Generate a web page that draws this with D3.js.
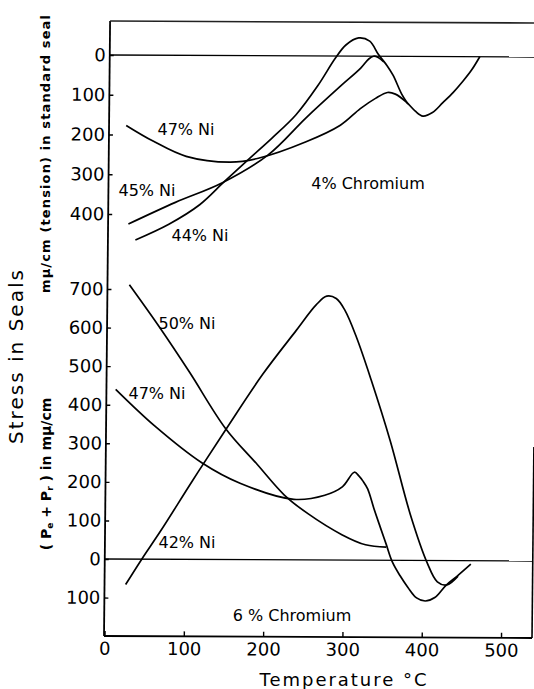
<!DOCTYPE html>
<html><head><meta charset="utf-8">
<script src="https://cdn.jsdelivr.net/npm/d3@7"></script>
<style>
body{margin:0;background:#fff}
svg{display:block;background:#fff}
text{font-family:"DejaVu Sans",sans-serif;fill:#000}
</style>
</head><body>
<svg id="c" width="534" height="689"></svg>
<script>
// ---- data (temperature °C, stress mμ/cm) ----
const tempTicks = [0, 100, 200, 300, 400, 500];
const topTicks = [0, 100, 200, 300, 400];
const botTicks = [700, 600, 500, 400, 300, 200, 100, 0, -100];

// 4% Chromium panel (positive = tension, plotted downward)
const top47 = [[21,177],[55,216],[97,254],[153,268],[188,258],[248,216],[291,174],[316,132],[335,106],[350,91],[360,95],[374,115],[385,137],[395,150],[407,141],[420,116],[433,90],[445,62],[456,33],[466,0]];
const top45 = [[25,425],[84,370],[143,320],[200,250],[248,155],[291,75],[316,30],[326,7],[332,0],[338,3],[345,14]];
const top44 = [[34,465],[76,425],[115,375],[145,318],[175,262],[205,207],[235,148],[262,75],[284,5],[297,-28],[313,-46],[327,-38],[338,-5],[349,23],[357,48],[368,95],[376,120]];

// 6% Chromium panel
const bot50 = [[27,711],[66,600],[104,485],[150,340],[190,248],[225,168],[255,120],[298,66],[328,40],[354,34]];
const bot47 = [[11,440],[61,345],[121,250],[169,198],[237,157],[276,168],[298,190],[313,228],[319,218],[324,205],[330,185],[338,135],[346,88],[354,42],[362,-4],[372,-40],[382,-70],[393,-97],[404,-105],[416,-96],[430,-64],[444,-40],[461,-9]];
const bot42 = [[26,-66],[46,0],[70,75],[109,204],[150,336],[196,480],[238,595],[263,662],[276,684],[288,678],[299,648],[314,578],[333,468],[358,309],[384,120],[406,-6],[419,-55],[431,-63],[445,-40]];

const topLabels = [
  {t:"47% Ni", x:186, y:129},
  {t:"45% Ni", x:147, y:190},
  {t:"44% Ni", x:200, y:235},
  {t:"4% Chromium", x:368, y:183}
];
const botLabels = [
  {t:"50% Ni", x:187, y:323},
  {t:"47% Ni", x:157, y:393},
  {t:"42% Ni", x:187, y:542},
  {t:"6 % Chromium", x:292, y:615}
];

// ---- drawing ----
const svg = d3.select("#c");
// slight shear to mimic the scanned page
const g = svg.append("g").attr("transform","matrix(1,0.0047,-0.0099,1,6.3,-0.49)");

const x = d3.scaleLinear().domain([0,500]).range([104.5,501]);
const yT = d3.scaleLinear().domain([0,400]).range([55,214]);
const yB = d3.scaleLinear().domain([0,700]).range([559,289]);

const X0 = 104, YBOT = 636, YTOP = 21;

// frame lines
g.append("line").attr("x1",X0).attr("x2",X0).attr("y1",YTOP).attr("y2",YBOT).attr("stroke","#000").attr("stroke-width",1.8);
g.append("line").attr("x1",X0).attr("x2",545).attr("y1",YTOP).attr("y2",YTOP).attr("stroke","#222").attr("stroke-width",1.6);
g.append("line").attr("x1",X0).attr("x2",532).attr("y1",YBOT).attr("y2",YBOT).attr("stroke","#000").attr("stroke-width",1.8);
g.append("line").attr("x1",532).attr("x2",532).attr("y1",445).attr("y2",YBOT).attr("stroke","#000").attr("stroke-width",1.6);
g.append("line").attr("x1",X0).attr("x2",545).attr("y1",yT(0)).attr("y2",yT(0)).attr("stroke","#000").attr("stroke-width",1.3);
g.append("line").attr("x1",X0).attr("x2",532).attr("y1",yB(0)).attr("y2",yB(0)).attr("stroke","#000").attr("stroke-width",1.3);

function styleAxis(sel, fs){
  sel.select(".domain").remove();
  sel.selectAll(".tick line").attr("stroke","#000").attr("stroke-width",1.4);
  sel.selectAll(".tick text").attr("font-size",fs).attr("font-family","DejaVu Sans").attr("fill","#000");
}
const fmt = d => String(Math.abs(d));
g.append("g").attr("transform",`translate(${X0},0)`)
  .call(d3.axisLeft(yT).tickValues(topTicks).tickSize(-4).tickPadding(4).tickFormat(fmt))
  .call(s=>styleAxis(s,18));
g.append("g").attr("transform",`translate(${X0},0)`)
  .call(d3.axisLeft(yB).tickValues(botTicks).tickSize(-4).tickPadding(4).tickFormat(fmt))
  .call(s=>styleAxis(s,18));
g.append("g").attr("transform",`translate(0,${YBOT})`)
  .call(d3.axisBottom(x).tickValues(tempTicks).tickSize(-5).tickPadding(6).tickFormat(fmt))
  .call(s=>styleAxis(s,18));

// curves
const lineT = d3.line().x(d=>x(d[0])).y(d=>yT(d[1])).curve(d3.curveCatmullRom.alpha(0.5));
const lineB = d3.line().x(d=>x(d[0])).y(d=>yB(d[1])).curve(d3.curveCatmullRom.alpha(0.5));
[top47, top45, top44].forEach(s=>{
  g.append("path").attr("d",lineT(s)).attr("fill","none").attr("stroke","#000").attr("stroke-width",1.7).attr("stroke-linejoin","round");
});
[bot50, bot47, bot42].forEach(s=>{
  g.append("path").attr("d",lineB(s)).attr("fill","none").attr("stroke","#000").attr("stroke-width",1.7).attr("stroke-linejoin","round");
});

// labels (page coordinates)
const L = svg.append("g");
topLabels.concat(botLabels).forEach(l=>{
  L.append("text").attr("x",l.x).attr("y",l.y).attr("text-anchor","middle")
   .attr("dominant-baseline","central").attr("font-size",16).text(l.t);
});

// axis titles
L.append("text").attr("transform","translate(16,357) rotate(-90)")
  .attr("text-anchor","middle").attr("dominant-baseline","central")
  .attr("font-size",20).attr("textLength",174).attr("lengthAdjust","spacing")
  .text("Stress in Seals");
L.append("text").attr("transform","translate(45,154) rotate(-90)")
  .attr("text-anchor","middle").attr("dominant-baseline","central")
  .attr("font-size",13).attr("font-weight","bold").attr("textLength",278).attr("lengthAdjust","spacing")
  .text("mμ/cm (tension) in standard seal");
const bl = L.append("text").attr("transform","translate(46,474) rotate(-90)")
  .attr("text-anchor","middle").attr("dominant-baseline","central")
  .attr("font-size",14).attr("font-weight","bold");
bl.append("tspan").text("( P");
bl.append("tspan").attr("font-size",9).attr("dy",4).text("e");
bl.append("tspan").attr("dy",-4).text(" + P");
bl.append("tspan").attr("font-size",9).attr("dy",4).text("r");
bl.append("tspan").attr("dy",-4).text(" ) in mμ/cm");
L.append("text").attr("x",343).attr("y",679)
  .attr("text-anchor","middle").attr("dominant-baseline","central")
  .attr("font-size",18).attr("textLength",167).attr("lengthAdjust","spacing")
  .text("Temperature °C");
</script>
</body></html>
